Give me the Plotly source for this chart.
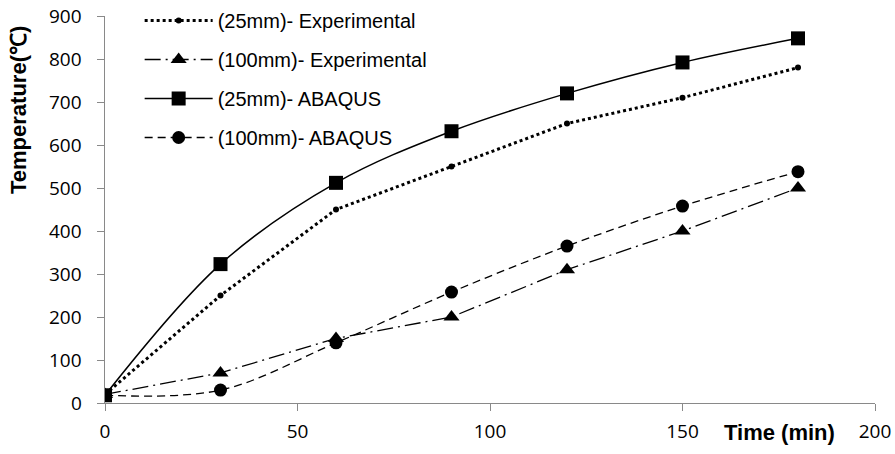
import plotly.graph_objects as go

time_min = [0, 30, 60, 90, 120, 150, 180]
exp_25mm = [20, 250, 450, 550, 650, 710, 780]
exp_100mm = [20, 70, 150, 200, 310, 400, 500]
abaqus_25mm = [18, 323, 512, 632, 720, 792, 848]
abaqus_100mm = [18, 30, 140, 258, 365, 458, 538]

x_ticks = [0, 50, 100, 150, 200]
y_ticks = [0, 100, 200, 300, 400, 500, 600, 700, 800, 900]

names = ["(25mm)- Experimental", "(100mm)- Experimental", "(25mm)- ABAQUS", "(100mm)- ABAQUS"]

fig = go.Figure()
fig.add_trace(go.Scatter(x=time_min, y=exp_25mm, name=names[0], mode="lines+markers",
                         line=dict(color="black", width=3, dash="dot"),
                         marker=dict(symbol="circle", size=6, color="black"),
                         legendgroup="a"))
fig.add_trace(go.Scatter(x=time_min, y=exp_100mm, name=names[1], mode="lines+markers",
                         line=dict(color="black", width=1.3, dash="16px,5px,2px,5px"),
                         marker=dict(symbol="triangle-up", size=14, color="black"),
                         legendgroup="b"))
fig.add_trace(go.Scatter(x=time_min, y=abaqus_25mm, name=names[2], mode="lines+markers",
                         line=dict(color="black", width=1.5, shape="spline", smoothing=1),
                         marker=dict(symbol="square", size=14, color="black"),
                         legendgroup="c"))
fig.add_trace(go.Scatter(x=time_min, y=abaqus_100mm, name=names[3], mode="lines+markers",
                         line=dict(color="black", width=1.3, dash="8px,5px", shape="spline", smoothing=1),
                         marker=dict(symbol="circle", size=13, color="black"),
                         legendgroup="d"))

axis_color = "#898989"
tick_font = dict(family="Open Sans", size=19, color="black")

# y tick labels sit further from the axis than plotly's default, so they are
# placed as annotations at each tick value
y_label_annotations = [
    dict(text=str(v), xref="paper", yref="y", x=-(105 - 84) / 770, y=v,
         xanchor="right", yanchor="middle", showarrow=False, font=tick_font)
    for v in y_ticks
]

fig.update_layout(
    width=895, height=454,
    margin=dict(l=105, r=20, t=16, b=51, autoexpand=False),
    paper_bgcolor="white", plot_bgcolor="white",
    showlegend=True,
    legend=dict(x=0.045, y=1 + 15 / 387, xanchor="left", yanchor="top",
                font=dict(family="Liberation Sans, Arial", size=20, color="black"),
                bgcolor="rgba(0,0,0,0)", itemwidth=68, tracegroupgap=10,
                traceorder="grouped"),
    xaxis=dict(range=[0, 200], tickvals=x_ticks, showgrid=False, zeroline=False,
               showline=True, linecolor=axis_color, linewidth=1.2,
               ticks="outside", ticklen=7, tickcolor=axis_color, ticklabelstandoff=4,
               tickfont=tick_font),
    yaxis=dict(range=[0, 900], tickvals=y_ticks, showgrid=False, zeroline=False,
               showline=True, linecolor=axis_color, linewidth=1.2,
               ticks="outside", ticklen=7, tickcolor=axis_color,
               showticklabels=False),
    annotations=y_label_annotations + [
        dict(text="<b>Temperature(℃)</b>", xref="paper", yref="paper",
             x=-(105 - 19) / 770, y=(403 - 110) / 387, textangle=-90, showarrow=False,
             xanchor="center", yanchor="middle",
             font=dict(family="Liberation Sans, Arial", size=22, color="black")),
        dict(text="<b>Time (min)</b>", xref="paper", yref="paper",
             x=(779 - 105) / 770, y=-(432 - 403) / 387,
             showarrow=False, xanchor="center", yanchor="middle",
             font=dict(family="Liberation Sans, Arial", size=22, color="black")),
    ],
)

fig.write_html("out.html", config={"displayModeBar": False},
               post_script="document.body.style.margin='0';")
